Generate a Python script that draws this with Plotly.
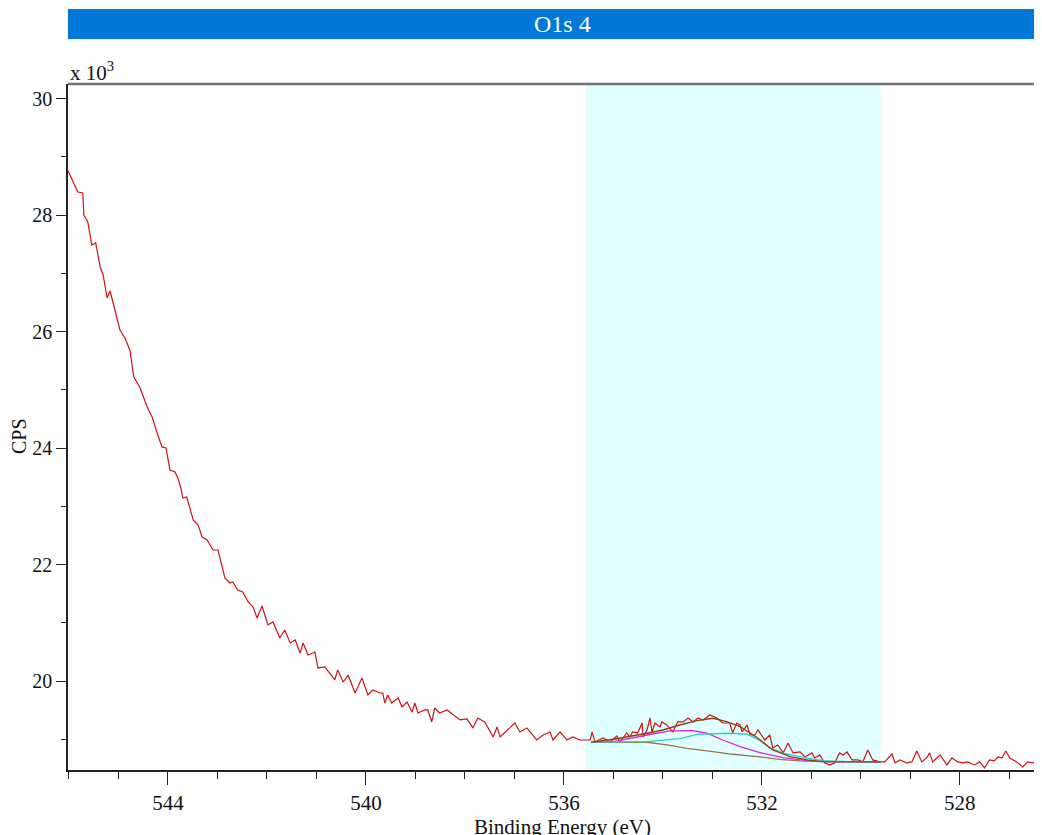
import plotly.graph_objects as go

# ---- data (binding energy in eV, intensity in CPS) ----
spec_be = [546.02, 545.88, 545.82, 545.72, 545.70, 545.62, 545.54, 545.46, 545.37, 545.31,
           545.23, 545.17, 545.11, 544.97, 544.87, 544.77, 544.69, 544.57, 544.42, 544.32,
           544.22, 544.12, 544.04, 543.96, 543.86, 543.80, 543.74, 543.70, 543.62, 543.49,
           543.39, 543.31, 543.21, 543.09, 542.99, 542.85, 542.75, 542.69, 542.59, 542.49,
           542.38, 542.28, 542.20, 542.10, 541.98, 541.88, 541.74, 541.64, 541.53, 541.43,
           541.33, 541.27, 541.17, 541.03, 540.97, 540.83, 540.63, 540.57, 540.46, 540.36,
           540.22, 540.08, 539.96, 539.86, 539.72, 539.66, 539.62, 539.56, 539.48, 539.35,
           539.27, 539.17, 539.07, 539.01, 538.95, 538.81, 538.75, 538.67, 538.61, 538.51,
           538.36, 538.24, 538.10, 537.96, 537.84, 537.74, 537.60, 537.43, 537.35, 537.29,
           537.15, 536.99, 536.89, 536.75, 536.55, 536.42, 536.28, 536.22, 536.08, 535.94,
           535.82, 535.68, 535.54, 535.47, 535.43, 535.37, 535.21, 535.07, 534.93, 534.87,
           534.73, 534.67, 534.61, 534.51, 534.42, 534.40, 534.32, 534.26, 534.22, 534.16,
           534.06, 534.02, 533.92, 533.80, 533.70, 533.59, 533.49, 533.39, 533.29, 533.19,
           533.05, 532.91, 532.79, 532.65, 532.59, 532.51, 532.44, 532.40, 532.34, 532.30,
           532.24, 532.14, 532.08, 531.94, 531.84, 531.78, 531.68, 531.57, 531.47, 531.37,
           531.23, 531.13, 530.99, 530.93, 530.83, 530.73, 530.63, 530.53, 530.43, 530.36,
           530.28, 530.18, 530.06, 529.96, 529.86, 529.76, 529.61, 529.52, 529.37, 529.31,
           529.21, 529.07, 528.97, 528.87, 528.77, 528.67, 528.61, 528.55, 528.40, 528.26,
           528.16, 528.04, 527.94, 527.84, 527.70, 527.60, 527.50, 527.40, 527.30, 527.23,
           527.15, 527.07, 526.99, 526.85, 526.73, 526.63, 526.53, 526.38, 526.28]
spec_cps = [28760, 28515, 28395, 28378, 28000, 27880, 27485, 27520, 27107, 26970,
            26575, 26695, 26490, 26026, 25889, 25683, 25219, 25047, 24704, 24533,
            24258, 24018, 24000, 23623, 23588, 23485, 23314, 23142, 23159, 22764,
            22678, 22472, 22421, 22249, 22249, 21769, 21683, 21700, 21563, 21528,
            21357, 21271, 21082, 21288, 20962, 21013, 20738, 20876, 20653, 20704,
            20481, 20653, 20447, 20498, 20224, 20241, 20018, 20189, 19983, 20103,
            19794, 20052, 19760, 19846, 19794, 19794, 19623, 19760, 19623, 19708,
            19554, 19640, 19468, 19623, 19451, 19503, 19503, 19297, 19537, 19451,
            19503, 19417, 19331, 19348, 19194, 19365, 19297, 19039, 19211, 19039,
            19159, 19279, 19125, 19194, 18987, 19073, 19125, 18987, 19125, 18987,
            19039, 18987, 18987, 18987, 19125, 18953, 19022, 18953, 19056, 18953,
            19108, 19039, 19125, 19108, 19279, 19039, 19159, 19365, 19125, 19279,
            19211, 19297, 19245, 19125, 19297, 19297, 19365, 19297, 19365, 19331,
            19417, 19365, 19279, 19279, 19108, 19279, 19245, 19125, 19194, 19245,
            19073, 19073, 19159, 18987, 19073, 18850, 18902, 18765, 18936, 18765,
            18782, 18696, 18765, 18679, 18731, 18593, 18559, 18593, 18765, 18731,
            18782, 18645, 18645, 18611, 18816, 18645, 18611, 18611, 18747, 18593,
            18645, 18593, 18611, 18799, 18611, 18679, 18765, 18611, 18731, 18559,
            18679, 18611, 18593, 18611, 18559, 18611, 18507, 18645, 18628, 18696,
            18679, 18799, 18679, 18611, 18524, 18611, 18593, 18679, 18640]

bg_be = [535.45, 534.32, 533.92, 533.51, 532.99, 532.59, 532.04, 531.64, 531.23, 530.63, 529.60]
bg_cps = [18948, 18948, 18902, 18845, 18787, 18742, 18696, 18656, 18628, 18611, 18611]

cyan_be = [535.45, 534.32, 533.66, 533.28, 532.65, 532.30, 532.04, 531.84, 531.57, 531.08, 530.76, 530.17, 529.60]
cyan_cps = [18950, 18959, 19010, 19086, 19103, 19086, 18980, 18850, 18760, 18675, 18633, 18611, 18611]

mag_be = [535.45, 534.99, 534.32, 533.86, 533.39, 533.11, 532.79, 532.44, 532.04, 531.57, 531.29, 530.93, 529.60]
mag_cps = [18950, 18959, 19073, 19142, 19147, 19103, 18987, 18873, 18770, 18684, 18656, 18620, 18611]

env_be = [535.45, 534.99, 534.32, 534.00, 533.66, 533.31, 532.99, 532.71, 532.44, 532.10, 531.78, 531.43, 531.08, 530.76, 529.60]
env_cps = [18950, 18999, 19102, 19159, 19245, 19319, 19360, 19302, 19216, 19030, 18816, 18701, 18645, 18616, 18611]

region_be = [535.56, 529.60]
y_ticks = [20000, 22000, 24000, 26000, 28000, 30000]
y_ticktext = ["20", "22", "24", "26", "28", "30"]
x_range = [546.02, 526.34]
y_range = [18472, 30249]

SERIF = "Liberation Serif, Times New Roman, serif"

fig = go.Figure()
fig.add_trace(go.Scatter(x=spec_be, y=spec_cps, mode="lines",
                         line=dict(color="#CC1414", width=1.2), showlegend=False))
fig.add_trace(go.Scatter(x=bg_be, y=bg_cps, mode="lines",
                         line=dict(color="#A0724A", width=1.3), showlegend=False))
fig.add_trace(go.Scatter(x=mag_be, y=mag_cps, mode="lines",
                         line=dict(color="#DD22DD", width=1.3), showlegend=False))
fig.add_trace(go.Scatter(x=cyan_be, y=cyan_cps, mode="lines",
                         line=dict(color="#33CCCC", width=1.3), showlegend=False))
fig.add_trace(go.Scatter(x=env_be, y=env_cps, mode="lines",
                         line=dict(color="#8B4513", width=1.4), showlegend=False))

fig.add_shape(type="rect", xref="x", yref="paper", x0=region_be[0], x1=region_be[1],
              y0=0, y1=1, fillcolor="#E0FFFF", line=dict(width=0), layer="below")
# top border
fig.add_shape(type="line", xref="paper", yref="paper", x0=0, x1=1, y0=1, y1=1,
              line=dict(color="#707070", width=2.5))
# title bar
fig.add_shape(type="rect", xref="paper", yref="paper", x0=0, x1=1.02,
              y0=1 + (84 - 39) / 686, y1=1 + (84 - 9) / 686,
              fillcolor="#0078D7", line=dict(width=0))
fig.add_annotation(text="O1s 4", xref="paper", yref="paper", x=(562 - 68) / 974,
                   y=1 + (84 - 24) / 686, xanchor="center", yanchor="middle",
                   showarrow=False, font=dict(family=SERIF, size=24, color="white"))
fig.add_annotation(text="x 10<sup>3</sup>", xref="paper", yref="paper", x=0, y=1,
                   xanchor="left", yanchor="bottom", yshift=-3, showarrow=False,
                   font=dict(family=SERIF, size=21, color="#111"))
fig.add_annotation(text="Binding Energy (eV)", xref="paper", yref="paper",
                   x=(562 - 68) / 974, y=(770 - 827) / 686, xanchor="center",
                   yanchor="middle", showarrow=False,
                   font=dict(family=SERIF, size=21, color="#111"))
fig.add_annotation(text="CPS", xref="paper", yref="paper", x=(19 - 68) / 974,
                   y=(770 - 436) / 686, xanchor="center", yanchor="middle",
                   textangle=-90, showarrow=False,
                   font=dict(family=SERIF, size=20, color="#111"))

# page body has an 8px margin: figure is sized/offset to compensate
fig.update_layout(
    width=1034, height=827,
    margin=dict(l=60, r=0, t=76, b=65),
    paper_bgcolor="white", plot_bgcolor="white",
    font=dict(family=SERIF, size=20, color="#111"),
    xaxis=dict(range=x_range, tickmode="linear", tick0=0, dtick=4,
               ticks="outside", ticklen=13, tickwidth=1.3, tickcolor="#222",
               showline=True, linecolor="#222", linewidth=1.5,
               showgrid=False, zeroline=False, tickfont=dict(size=21),
               minor=dict(dtick=1, tick0=0, ticks="outside", ticklen=7,
                          tickwidth=1.3, tickcolor="#222", showgrid=False)),
    yaxis=dict(range=y_range, tickmode="array", tickvals=y_ticks, ticktext=y_ticktext,
               ticks="outside", ticklen=10, tickwidth=1.3, tickcolor="#222",
               showline=True, linecolor="#222", linewidth=1.5,
               showgrid=False, zeroline=False, tickfont=dict(size=20),
               minor=dict(dtick=1000, tick0=0, ticks="outside", ticklen=5,
                          tickwidth=1.3, tickcolor="#222", showgrid=False)),
)

fig.write_html("out.html")
